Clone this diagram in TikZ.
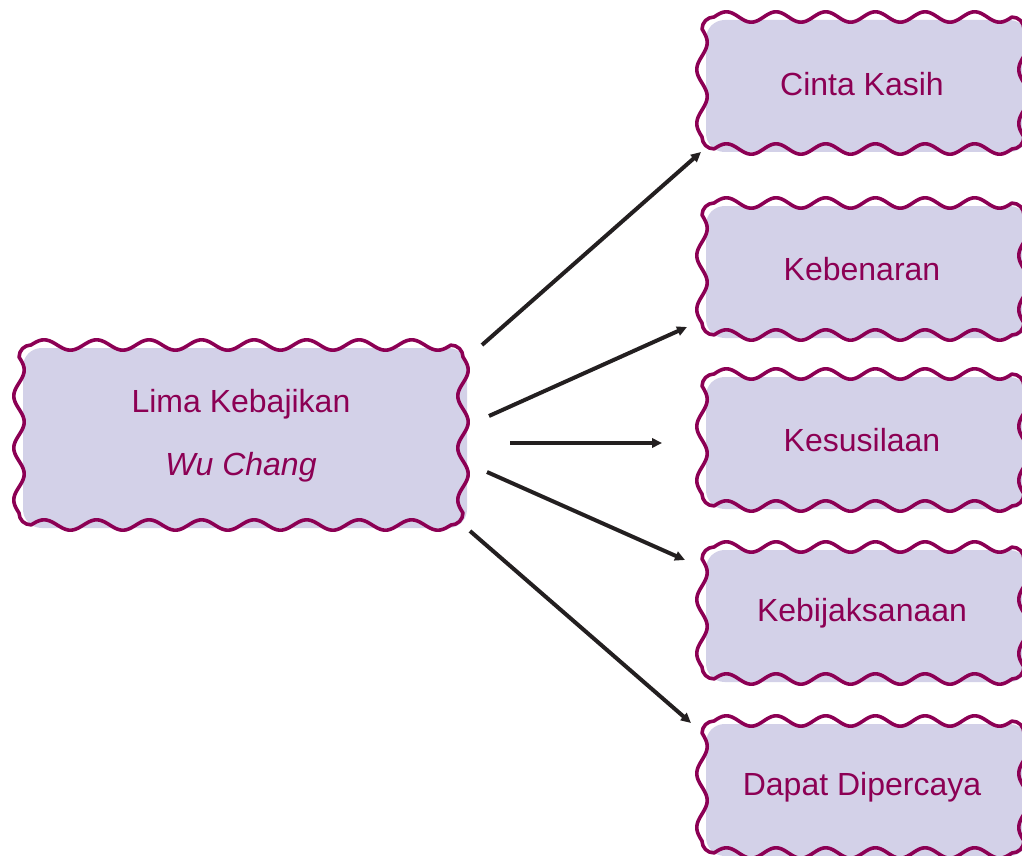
\documentclass[tikz,border=0pt]{standalone}
\usepackage{fontspec}
\setmainfont{Liberation Sans}
\usetikzlibrary{arrows.meta,backgrounds}
\definecolor{boxtext}{RGB}{140,0,84}
\definecolor{boxfill}{RGB}{211,209,232}
\definecolor{arrowcol}{RGB}{35,31,32}
\tikzset{
  x=0.75pt, y=-0.75pt,
  label/.style={text=boxtext, font=\fontsize{24}{47}\selectfont, align=center, inner sep=0pt},
  wavyborder/.style={draw=boxtext, line width=2.7pt, line join=round},
  shadowfill/.style={fill=boxfill, rounded corners=14pt},
  conn/.style={draw=arrowcol, line width=3pt, -{Triangle[length=7.5pt,width=7pt]}}
}
\def\wr{12}
\def\wa{5.2}
\newcommand{\wbox}[5]{% name, x1,y1,x2,y2
  \pgfmathsetmacro\wx{#4-#2-2*\wr}%
  \pgfmathsetmacro\wy{#5-#3-2*\wr}%
  \pgfmathsetmacro\nx{max(1,round(\wx/53))}%
  \pgfmathsetmacro\ny{max(1,round(\wy/53))}%
  \pgfmathsetmacro\wk{0.55*\wr}%
  \coordinate (#1-nw) at (#2,#3);
  \coordinate (#1-se) at (#4,#5);
  \begin{pgfonlayer}{background}
    \fill[shadowfill] ([shift={(4,3)}]#1-nw) rectangle ([shift={(4,3)}]#1-se);
    \draw[wavyborder]
      (#2+\wr,#3)
      -- plot[domain=0:1,samples=160,variable=\t] ({#2+\wr+\t*\wx},{#3-\wa*sin(360*\nx*\t)})
      .. controls (#4-\wr+\wk,#3) and (#4,#3+\wr-\wk) .. (#4,#3+\wr)
      -- plot[domain=0:1,samples=80,variable=\t] ({#4+\wa*sin(360*\ny*\t)},{#3+\wr+\t*\wy})
      .. controls (#4,#5-\wr+\wk) and (#4-\wr+\wk,#5) .. (#4-\wr,#5)
      -- plot[domain=0:1,samples=160,variable=\t] ({#4-\wr-\t*\wx},{#5+\wa*sin(360*\nx*\t)})
      .. controls (#2+\wr-\wk,#5) and (#2,#5-\wr+\wk) .. (#2,#5-\wr)
      -- plot[domain=0:1,samples=80,variable=\t] ({#2-\wa*sin(360*\ny*\t)},{#5-\wr-\t*\wy})
      .. controls (#2,#3+\wr-\wk) and (#2+\wr-\wk,#3) .. cycle;
  \end{pgfonlayer}
}
\begin{document}
\begin{tikzpicture}
\useasboundingbox (0,0) rectangle (1022,856);
% central box
\node[label] (L) at (241,436) {Lima Kebajikan\\\textit{Wu Chang}};
\wbox{Lb}{19}{345}{463}{525}
% right boxes
\node[label] (A) at (862,84) {Cinta Kasih};
\wbox{Ab}{702}{17}{1024}{149}
\node[label] (B) at (862,269) {Kebenaran};
\wbox{Bb}{702}{203}{1024}{335}
\node[label] (C) at (862,440) {Kesusilaan};
\wbox{Cb}{702}{374}{1024}{506}
\node[label] (D) at (862,613) {Kebijaksanaan};
\wbox{Db}{702}{547}{1024}{679}
\node[label] (E) at (862,787) {Dapat Dipercaya};
\wbox{Eb}{702}{721}{1024}{853}
% connector end points
\coordinate (s1) at (482,345); \coordinate (e1) at (701,152);
\coordinate (s2) at (489,416); \coordinate (e2) at (687,327);
\coordinate (s3) at (510,443); \coordinate (e3) at (662,443);
\coordinate (s4) at (487,472); \coordinate (e4) at (685,560);
\coordinate (s5) at (470,531); \coordinate (e5) at (691,723);
\draw[conn] (s1) -- (e1);
\draw[conn] (s2) -- (e2);
\draw[conn] (s3) -- (e3);
\draw[conn] (s4) -- (e4);
\draw[conn] (s5) -- (e5);
\end{tikzpicture}
\end{document}
